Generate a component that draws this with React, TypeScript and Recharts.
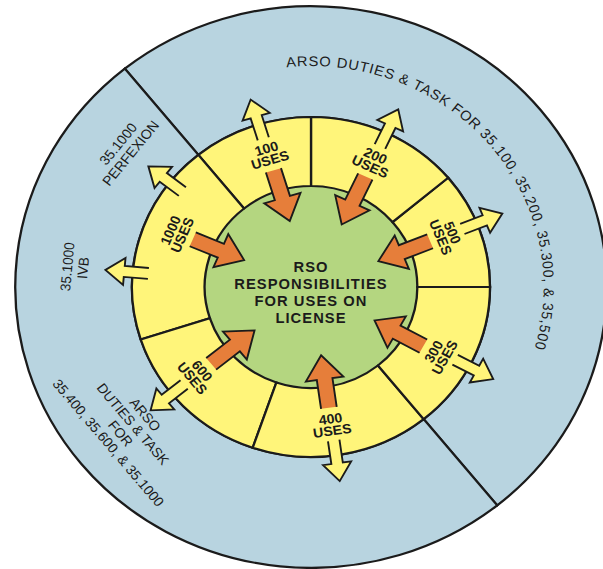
import { Cell, Pie, PieChart } from "recharts";

// yellow ring: uses on license, counter-clockwise from 3 o'clock, span in degrees
const segmentNames = ["500", "200", "100", "1000", "600", "400", "300"];
const segmentSpans = [40, 50, 39, 69, 53, 58, 51];
const labelAngles = [22, 65, 107, 157, 219, 278, 331];
const inArrowAngles = [22, 65, 107, 157, 219, 278, 331];
const outArrowAngles = [[22], [65], [107], [142, 175], [219], [278], [332]];

// outer blue ring, split in two halves by the long line
const halfNames = ["35.100-35.500", "35.400-35.1000"];
const halfSpans = [180, 180];
const curvedTitle = "ARSO DUTIES & TASK FOR 35.100, 35.200, 35.300, & 35,500";
const curvedTitleArc = [96, -16];
const blueLabelLines = [
	["35.1000", "PERFEXION"],
	["35.1000", "IVB"],
	["ARSO", "DUTIES & TASK", "FOR", "35.400, 35.600, & 35.1000"],
];
const blueLabelAngles = [142, 175, 219];

const centerLines = ["RSO", "RESPONSIBILITIES", "FOR USES ON", "LICENSE"];

const segments = segmentNames.map((name, i) => ({ name, value: segmentSpans[i] }));
const halves = halfNames.map((name, i) => ({ name, value: halfSpans[i] }));
const core = [{ name: "RSO", value: 1 }];

const INK = "#1b1b1b";
const BLUE = "#b8d4e0";
const YELLOW = "#fff57a";
const GREEN = "#b4d680";
const ORANGE = "#e67e3a";
const FONT = "'Liberation Sans', Arial, sans-serif";

const RAD = Math.PI / 180;
const pt = (cx: number, cy: number, r: number, a: number) => [
	cx + r * Math.cos(a * RAD),
	cy - r * Math.sin(a * RAD),
];

// text upright: top faces outward on upper half, inward on lower half
const textRotation = (a: number) => {
	const n = a > 180 ? a - 360 : a;
	return n > 0 ? 90 - n : -90 - n;
};

function Arrow({ cx, cy, angle, r0, r1, shaft, head, headLen, fill }: any) {
	const d = r1 > r0 ? 1 : -1;
	const hb = r1 - d * headLen;
	const pts = [
		[r0, -shaft / 2],
		[hb, -shaft / 2],
		[hb, -head / 2],
		[r1, 0],
		[hb, head / 2],
		[hb, shaft / 2],
		[r0, shaft / 2],
	];
	const line = pts.map((p) => p.join(",")).join(" L");
	return (
		<g transform={`translate(${cx},${cy}) rotate(${-angle})`}>
			<path d={`M${line} Z`} fill={fill} stroke="none" />
			<path d={`M${line}`} fill="none" stroke={INK} strokeWidth={1.8} strokeLinejoin="miter" />
		</g>
	);
}

// one <text> per line, all sharing the block's rotation
function TextBlock({ x, y, rot, lines, size, gap, weight, spacing = 0 }: any) {
	const top = -((lines.length - 1) * gap) / 2;
	return (
		<g transform={`translate(${x},${y}) rotate(${rot})`}>
			{lines.map((t: string, i: number) => (
				<text
					key={i}
					x={0}
					y={top + i * gap + size * 0.36}
					textAnchor="middle"
					fontFamily={FONT}
					fontSize={size}
					fontWeight={weight}
					letterSpacing={spacing}
					fill={INK}
				>
					{t}
				</text>
			))}
		</g>
	);
}

const renderSegment = (props: any) => {
	const { cx, cy, index } = props;
	const a = labelAngles[index];
	const [x, y] = pt(cx, cy, 139, a);
	return (
		<g>
			{outArrowAngles[index].map((oa, k) => (
				<Arrow key={k} cx={cx} cy={cy} angle={oa} r0={155} r1={196} shaft={11} head={27} headLen={18} fill={YELLOW} />
			))}
			<Arrow cx={cx} cy={cy} angle={inArrowAngles[index]} r0={122} r1={69} shaft={15} head={36} headLen={24} fill={ORANGE} />
			<TextBlock x={x} y={y} rot={textRotation(a)} lines={[segmentNames[index], "USES"]} size={13.5} gap={12} weight="bold" />
		</g>
	);
};

const renderHalf = (props: any) => {
	const { cx, cy, index } = props;
	if (index === 0) {
		const r = 221;
		const [sx, sy] = pt(cx, cy, r, curvedTitleArc[0]);
		const [ex, ey] = pt(cx, cy, r, curvedTitleArc[1]);
		const len = (r * (curvedTitleArc[0] - curvedTitleArc[1]) * Math.PI) / 180;
		return (
			<g>
				<defs>
					<path id="arsoArc" d={`M${sx},${sy} A${r},${r} 0 0 1 ${ex},${ey}`} />
				</defs>
				<text fontFamily={FONT} fontSize={14} fill={INK}>
					<textPath href="#arsoArc" textLength={len} lengthAdjust="spacing">
						{curvedTitle}
					</textPath>
				</text>
			</g>
		);
	}
	return (
		<g>
			{blueLabelLines.map((lines, i) => {
				const [x, y] = pt(cx, cy, 225, blueLabelAngles[i]);
				return (
					<TextBlock key={i} x={x} y={y} rot={textRotation(blueLabelAngles[i])} lines={lines} size={13.5} gap={15} weight="normal" />
				);
			})}
		</g>
	);
};

const renderCore = (props: any) => {
	const { cx, cy } = props;
	return <TextBlock x={cx} y={cy + 5} rot={0} lines={centerLines} size={14} gap={17} weight="bold" spacing={1} />;
};

export default function App() {
	return (
		<div style={{ position: "absolute", left: 0, top: 0, width: 603, height: 569, overflow: "hidden", background: "#fff" }}>
			<div style={{ width: 603, height: 569, transform: "scaleX(1.053)", transformOrigin: "311px 0" }}>
				<PieChart width={603} height={569} margin={{ top: 0, right: 0, bottom: 0, left: 0 }}>
					<Pie
						data={halves}
						dataKey="value"
						cx={311}
						cy={287}
						innerRadius={170}
						outerRadius={281}
						startAngle={-51}
						endAngle={309}
						stroke={INK}
						strokeWidth={2.2}
						label={renderHalf}
						labelLine={false}
						isAnimationActive={false}
					>
						{halves.map((h) => (
							<Cell key={h.name} fill={BLUE} />
						))}
					</Pie>
					<Pie
						data={core}
						dataKey="value"
						cx={311}
						cy={287}
						innerRadius={0}
						outerRadius={101}
						stroke="none"
						fill={GREEN}
						label={renderCore}
						labelLine={false}
						isAnimationActive={false}
					/>
					<Pie
						data={segments}
						dataKey="value"
						cx={311}
						cy={287}
						innerRadius={101}
						outerRadius={170}
						startAngle={0}
						endAngle={360}
						stroke={INK}
						strokeWidth={2.2}
						label={renderSegment}
						labelLine={false}
						isAnimationActive={false}
					>
						{segments.map((s) => (
							<Cell key={s.name} fill={YELLOW} />
						))}
					</Pie>
				</PieChart>
			</div>
		</div>
	);
}
